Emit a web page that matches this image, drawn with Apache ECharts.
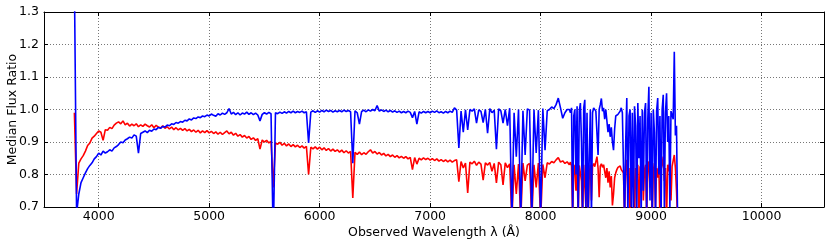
<!DOCTYPE html>
<html>
<head>
<meta charset="utf-8">
<script src="https://cdn.jsdelivr.net/npm/echarts@6/dist/echarts.min.js"></script>
<style>
html,body{margin:0;padding:0;background:#fff;}
#chart{width:831px;height:248px;}
</style>
</head>
<body>
<div id="chart"></div>
<script>
// Wavelength sampling (Angstrom): a coarse segment and a finer red-end segment
const waveStartA = 3780, waveStepA = 20;
const waveStartB = 8250, waveStepB = 10;

// Median flux ratio, red spectrum, segment A (3780-8240 A)
const redFluxA = [
0.99, 0.74, 0.835, 0.848, 0.858, 0.872, 0.889, 0.897, 0.912, 0.918,
0.926, 0.934, 0.93, 0.905, 0.938, 0.936, 0.945, 0.941, 0.952, 0.958,
0.962, 0.956, 0.965, 0.953, 0.958, 0.949, 0.955, 0.95, 0.956, 0.947,
0.953, 0.948, 0.955, 0.95, 0.946, 0.953, 0.944, 0.951, 0.946, 0.943,
0.95, 0.942, 0.947, 0.94, 0.946, 0.938, 0.944, 0.937, 0.942, 0.936,
0.941, 0.934, 0.939, 0.932, 0.937, 0.93, 0.936, 0.928, 0.934, 0.929,
0.935, 0.928, 0.933, 0.926, 0.931, 0.924, 0.93, 0.923, 0.929, 0.934,
0.925, 0.93, 0.921, 0.927, 0.918, 0.923, 0.915, 0.92, 0.912, 0.917,
0.908, 0.913, 0.905, 0.91, 0.878, 0.906, 0.9, 0.905, 0.897, 0.902,
0.76, 0.897, 0.893, 0.899, 0.89, 0.896, 0.888, 0.894, 0.886, 0.892,
0.885, 0.89, 0.883, 0.888, 0.881, 0.887, 0.80, 0.884, 0.879, 0.885,
0.878, 0.884, 0.876, 0.882, 0.874, 0.88, 0.872, 0.878, 0.871, 0.876,
0.869, 0.875, 0.867, 0.873, 0.866, 0.871, 0.728, 0.868, 0.862, 0.869,
0.861, 0.867, 0.862, 0.87, 0.876, 0.866, 0.871, 0.863, 0.868, 0.86,
0.865, 0.857, 0.862, 0.855, 0.86, 0.853, 0.858, 0.851, 0.856, 0.85,
0.855, 0.848, 0.853, 0.815, 0.852, 0.832, 0.85, 0.845, 0.851, 0.846,
0.85, 0.844, 0.849, 0.843, 0.848, 0.841, 0.846, 0.84, 0.845, 0.839,
0.844, 0.838, 0.843, 0.845, 0.778, 0.84, 0.82, 0.835, 0.743, 0.838,
0.833, 0.841, 0.828, 0.838, 0.832, 0.783, 0.836, 0.829, 0.837, 0.81,
0.834, 0.774, 0.838, 0.83, 0.768, 0.836, 0.821, 0.833, 0.66, 0.83,
0.74, 0.832, 0.66, 0.835, 0.78, 0.829, 0.834, 0.66, 0.83, 0.76,
0.835, 0.66, 0.831, 0.79, 0.836, 0.832, 0.84, 0.836, 0.845, 0.852,
0.838, 0.842, 0.834, 0.839
];

// Red spectrum, segment B (8250-9240 A)
const redFluxB = [
0.835, 0.83, 0.838, 0.826, 0.66, 0.83, 0.822, 0.75, 0.835, 0.66,
0.828, 0.832, 0.78, 0.66, 0.83, 0.825, 0.7, 0.833, 0.66, 0.8,
0.83, 0.72, 0.826, 0.834, 0.824, 0.83, 0.855, 0.82, 0.73, 0.826,
0.833, 0.822, 0.83, 0.825, 0.79, 0.82, 0.775, 0.81, 0.76, 0.795,
0.705, 0.74, 0.79, 0.805, 0.815, 0.822, 0.818, 0.826, 0.815, 0.82,
0.805, 0.66, 0.83, 0.845, 0.75, 0.82, 0.66, 0.83, 0.8, 0.84,
0.66, 0.82, 0.79, 0.83, 0.66, 0.825, 0.78, 0.84, 0.72, 0.815,
0.83, 0.66, 0.82, 0.84, 0.76, 0.825, 0.66, 0.81, 0.835, 0.7,
0.82, 0.79, 0.83, 0.66, 0.815, 0.83, 0.855, 0.78, 0.82, 0.66,
0.83, 0.81, 0.84, 0.72, 0.825, 0.83, 0.86, 0.82, 0.75, 0.66
];

// Median flux ratio, blue spectrum, segment A (3780-8240 A)
const blueFluxA = [
1.4, 0.68, 0.74, 0.775, 0.79, 0.805, 0.818, 0.828, 0.836, 0.848,
0.855, 0.866, 0.86, 0.872, 0.866, 0.87, 0.876, 0.872, 0.882, 0.886,
0.892, 0.9, 0.898, 0.906, 0.91, 0.915, 0.912, 0.922, 0.918, 0.866,
0.926, 0.93, 0.934, 0.929, 0.936, 0.933, 0.94, 0.938, 0.945, 0.942,
0.948, 0.946, 0.952, 0.95, 0.956, 0.954, 0.96, 0.958, 0.963, 0.961,
0.967, 0.965, 0.971, 0.968, 0.974, 0.972, 0.977, 0.975, 0.98, 0.978,
0.983, 0.98, 0.986, 0.982, 0.979, 0.987, 0.983, 0.989, 0.985, 0.99,
1.003, 0.986, 0.991, 0.984, 0.99, 0.983, 0.989, 0.986, 0.992, 0.985,
0.99, 0.984, 0.989, 0.983, 0.965, 0.985, 0.99, 0.986, 0.991, 0.987,
0.6, 0.99, 0.987, 0.992, 0.988, 0.993, 0.989, 0.994, 0.99, 0.995,
0.99, 0.994, 0.991, 0.995, 0.99, 0.993, 0.897, 0.992, 0.996, 0.991,
0.996, 0.992, 0.997, 0.993, 0.998, 0.994, 0.997, 0.992, 0.996, 0.993,
0.997, 0.993, 0.998, 0.994, 0.997, 0.993, 0.835, 0.996, 0.99, 0.955,
0.994, 0.998, 0.993, 0.999, 0.995, 1.0, 0.996, 1.012, 0.995, 0.999,
0.994, 0.998, 0.993, 0.997, 0.992, 0.996, 0.991, 0.995, 0.99, 0.994,
0.99, 0.995, 0.991, 0.975, 0.994, 0.955, 0.993, 0.989, 0.994, 0.99,
0.994, 0.99, 0.995, 0.991, 0.996, 0.99, 0.993, 0.989, 0.994, 0.99,
0.995, 0.991, 1.005, 0.998, 0.882, 0.995, 0.93, 0.999, 0.937, 1.0,
0.995, 1.002, 0.958, 0.999, 0.994, 0.96, 1.0, 0.927, 1.003, 0.99,
0.998, 0.878, 1.002, 0.996, 0.958, 1.0, 0.95, 1.004, 0.66, 0.99,
0.855, 1.0, 0.66, 0.996, 0.86, 1.002, 0.998, 0.66, 1.0, 0.866,
0.998, 0.66, 1.003, 0.875, 0.996, 1.0, 1.008, 1.003, 1.015, 1.035,
1.005, 0.973, 0.99, 1.0
];

// Blue spectrum, segment B (8250-9240 A)
const blueFluxB = [
0.995, 1.0, 0.99, 1.005, 0.66, 0.98, 1.0, 0.8, 1.01, 0.66,
0.995, 1.02, 0.9, 0.66, 1.005, 1.03, 0.7, 0.99, 0.66, 0.85,
1.0, 0.66, 0.99, 1.005, 1.01, 0.995, 1.0, 0.86, 1.0, 1.015,
1.034, 0.995, 1.005, 0.97, 1.0, 0.995, 0.93, 0.955, 0.916, 0.945,
0.9, 0.875, 0.94, 0.98, 0.975, 0.985, 0.98, 0.995, 1.005, 0.99,
0.995, 0.66, 0.9, 1.035, 0.66, 0.98, 1.0, 0.7, 0.99, 0.66,
1.01, 0.95, 0.66, 1.02, 0.85, 0.98, 0.66, 1.0, 0.75, 0.99,
1.02, 0.66, 0.97, 1.07, 0.72, 0.99, 0.66, 1.0, 0.93, 0.66,
0.995, 1.035, 0.8, 0.98, 0.66, 1.0, 1.045, 0.7, 0.99, 1.05,
0.9, 0.98, 0.7, 0.995, 1.0, 0.97, 1.178, 0.92, 0.95, 0.66
];

// Axis settings
const xMin = 3505, xMax = 10565;
const yMin = 0.7, yMax = 1.3, yStep = 0.1;
const xTitle = 'Observed Wavelength \u03bb (\u00c5)';
const yTitle = 'Median Flux Ratio';

const pairs = (arr, start, step) => arr.map((v, i) => [start + i * step, v]);
const redData = pairs(redFluxA, waveStartA, waveStepA).concat(pairs(redFluxB, waveStartB, waveStepB));
const blueData = pairs(blueFluxA, waveStartA, waveStepA).concat(pairs(blueFluxB, waveStartB, waveStepB));

const font = 'DejaVu Sans';
const chart = echarts.init(document.getElementById('chart'), null, {renderer: 'canvas'});
const tick = {show: true, inside: true, length: 4, lineStyle: {color: '#000', width: 1}};
const axisLine = {show: true, onZero: false, lineStyle: {color: '#000', width: 1}};
const split = {show: true, lineStyle: {color: '#777', width: 1, type: [1, 2]}};

chart.setOption({
  animation: false,
  grid: {left: 44, right: 7, top: 12, bottom: 41, containLabel: false, outerBoundsMode: 'none'},
  xAxis: [{
    type: 'value', min: xMin, max: xMax, splitNumber: 7, position: 'bottom',
    axisLine: axisLine, axisTick: tick, splitLine: split,
    axisLabel: {show: true, margin: 3, color: '#000', fontFamily: font, fontSize: 12.5,
      showMinLabel: false, showMaxLabel: false,
      formatter: v => (v % 1000 === 0 ? String(v) : '')},
    name: xTitle, nameLocation: 'middle', nameGap: 19, nameMoveOverlap: false,
    nameTextStyle: {color: '#000', fontFamily: font, fontSize: 12.5}
  }, {
    type: 'value', min: xMin, max: xMax, splitNumber: 7, position: 'top',
    axisLine: axisLine, axisTick: tick, splitLine: {show: false}, axisLabel: {show: false}
  }],
  yAxis: [{
    type: 'value', min: yMin, max: yMax, interval: yStep, position: 'left',
    axisLine: axisLine, axisTick: tick, splitLine: split,
    axisLabel: {margin: 5, color: '#000', fontFamily: font, fontSize: 12.5,
      formatter: v => v.toFixed(1)},
    name: yTitle, nameLocation: 'middle', nameGap: 25, nameMoveOverlap: false,
    nameTextStyle: {color: '#000', fontFamily: font, fontSize: 12.5}
  }, {
    type: 'value', min: yMin, max: yMax, interval: yStep, position: 'right',
    axisLine: axisLine, axisTick: tick, splitLine: {show: false}, axisLabel: {show: false}
  }],
  series: [{
    type: 'line', data: redData, showSymbol: false, symbol: 'none',
    lineStyle: {color: '#ff0000', width: 1.6}, itemStyle: {color: '#ff0000'},
    clip: true, sampling: null, xAxisIndex: 0, yAxisIndex: 0
  }, {
    type: 'line', data: blueData, showSymbol: false, symbol: 'none',
    lineStyle: {color: '#0000ff', width: 1.6}, itemStyle: {color: '#0000ff'},
    clip: true, sampling: null, xAxisIndex: 0, yAxisIndex: 0
  }]
});
</script>
</body>
</html>
